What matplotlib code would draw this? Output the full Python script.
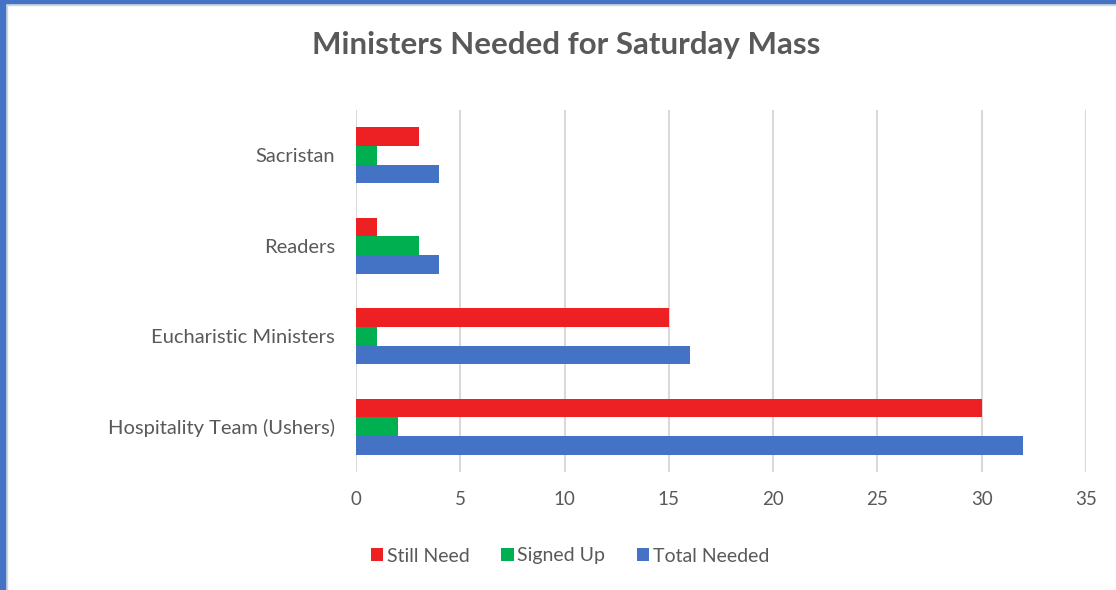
import matplotlib
matplotlib.use("Agg")
import matplotlib.pyplot as plt
import numpy as np
from matplotlib.patches import Rectangle

categories = ["Hospitality Team (Ushers)", "Eucharistic Ministers", "Readers", "Sacristan"]
still_need = [30, 15, 1, 3]
signed_up = [2, 1, 3, 1]
total_needed = [32, 16, 4, 4]
series_names = ["Still Need", "Signed Up", "Total Needed"]
xticks = [0, 5, 10, 15, 20, 25, 30, 35]

plt.rcParams['font.family'] = ['Lato', 'DejaVu Sans']
W, H = 1116, 590
fig = plt.figure(figsize=(W/100, H/100), dpi=100)
fig.patch.set_facecolor('white')

ax = fig.add_axes([356/W, 1-472/H, (1086-356)/W, (472-110)/H])
y = np.arange(len(categories))
bh = 0.205
c_red, c_green, c_blue = '#ed2024', '#00b050', '#4472c4'
ax.barh(y + bh, still_need, height=bh, color=c_red, label=series_names[0], zorder=3)
ax.barh(y, signed_up, height=bh, color=c_green, label=series_names[1], zorder=3)
ax.barh(y - bh, total_needed, height=bh, color=c_blue, label=series_names[2], zorder=3)

ax.set_ylim(-0.5, 3.5)
ax.set_xlim(0, 35)
ax.set_xticks(xticks)
ax.set_yticks(y)
ax.set_yticklabels(categories)
for s in ax.spines.values():
    s.set_visible(False)
ax.tick_params(axis='both', length=0, labelcolor='#595959')
ax.tick_params(axis='x', pad=14, labelsize=13.5)
ax.tick_params(axis='y', pad=15, labelsize=14.5)
ax.xaxis.grid(True, color='#d9d9d9', linewidth=1.5, zorder=0)
ax.set_axisbelow(True)

fig.text(566/W, 1-45/H, "Ministers Needed for Saturday Mass", ha='center', va='center',
         fontsize=22.5, fontweight='bold', color='#595959')

leg = fig.legend(*ax.get_legend_handles_labels(), loc='center', bbox_to_anchor=(570/W, 1-556/H),
                 ncol=3, frameon=False, fontsize=14, handlelength=0.65, handleheight=0.65,
                 handletextpad=0.2, columnspacing=1.6)
for t in leg.get_texts():
    t.set_color('#595959')

# border
fig.patches.append(Rectangle((0, 0), 5/W, 1, transform=fig.transFigure, color='#4472c4', zorder=10))
fig.patches.append(Rectangle((0, 1-3/H), 1, 3/H, transform=fig.transFigure, color='#4472c4', zorder=10))
fig.patches.append(Rectangle((5/W, 0), 2/W, 1-3/H, transform=fig.transFigure, color='#d0d5e0', zorder=9))
fig.patches.append(Rectangle((5/W, 1-5/H), 1, 2/H, transform=fig.transFigure, color='#d0d5e0', zorder=9))

fig.savefig("out.png", dpi=100)
